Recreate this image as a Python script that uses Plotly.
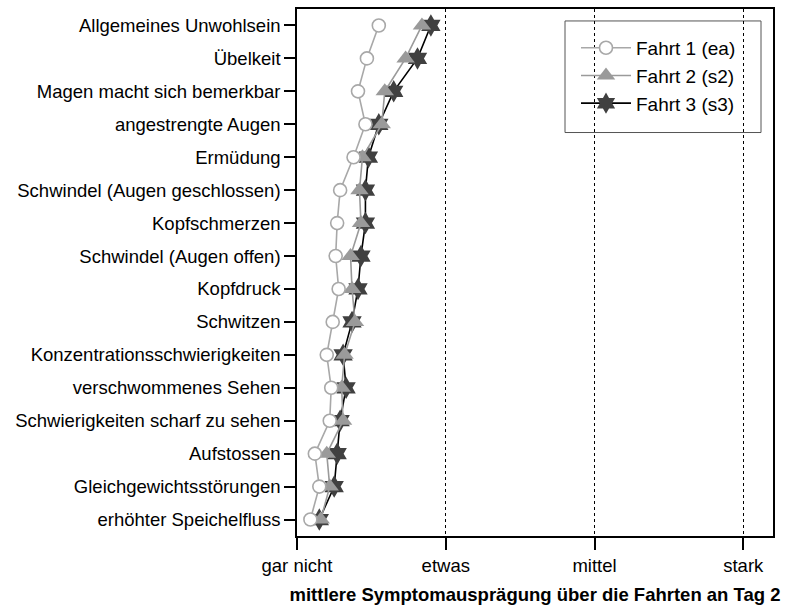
import plotly.graph_objects as go

# Symptom items (top to bottom)
symptoms = [
    "Allgemeines Unwohlsein",
    "Übelkeit",
    "Magen macht sich bemerkbar",
    "angestrengte Augen",
    "Ermüdung",
    "Schwindel (Augen geschlossen)",
    "Kopfschmerzen",
    "Schwindel (Augen offen)",
    "Kopfdruck",
    "Schwitzen",
    "Konzentrationsschwierigkeiten",
    "verschwommenes Sehen",
    "Schwierigkeiten scharf zu sehen",
    "Aufstossen",
    "Gleichgewichtsstörungen",
    "erhöhter Speichelfluss",
]

# Mean symptom rating per ride (0 = gar nicht ... 3 = stark)
fahrt1_ea = [0.55, 0.47, 0.41, 0.46, 0.38, 0.29, 0.27, 0.26,
             0.28, 0.24, 0.20, 0.23, 0.22, 0.12, 0.15, 0.09]
fahrt2_s2 = [0.84, 0.73, 0.59, 0.57, 0.44, 0.42, 0.43, 0.36,
             0.37, 0.39, 0.32, 0.30, 0.31, 0.20, 0.22, 0.16]
fahrt3_s3 = [0.90, 0.81, 0.65, 0.55, 0.48, 0.46, 0.46, 0.43,
             0.41, 0.37, 0.31, 0.33, 0.29, 0.27, 0.25, 0.15]

scale_vals = [0, 1, 2, 3]
scale_labels = ["gar nicht", "etwas", "mittel", "stark"]

FONT = "Liberation Sans, Arial, Helvetica, sans-serif"

fig = go.Figure()

# drawn back to front: ride 3, ride 2, ride 1
fig.add_trace(go.Scatter(
    x=fahrt3_s3, y=symptoms, mode="lines+markers", name="Fahrt 3 (s3)",
    legendrank=3,
    line=dict(color="black", width=1.6),
    marker=dict(symbol="hexagram", size=17, color="#404040",
                line=dict(width=0)),
))
fig.add_trace(go.Scatter(
    x=fahrt2_s2, y=symptoms, mode="lines+markers", name="Fahrt 2 (s2)",
    legendrank=2,
    line=dict(color="#9a9a9a", width=1.6),
    marker=dict(symbol="triangle-up", size=16, color="#9a9a9a",
                line=dict(width=0)),
))
fig.add_trace(go.Scatter(
    x=fahrt1_ea, y=symptoms, mode="lines+markers", name="Fahrt 1 (ea)",
    legendrank=1,
    line=dict(color="#a8a8a8", width=1.6),
    marker=dict(symbol="circle", size=13, color="white",
                line=dict(color="#a8a8a8", width=1.6)),
))

# legend frame
fig.add_shape(type="rect", xref="paper", yref="paper",
              x0=(565 - 297) / 476, x1=(761 - 297) / 476,
              y0=(536 - 131) / 529, y1=(536 - 19) / 529,
              line=dict(color="#555555", width=1), fillcolor="white",
              layer="below")

fig.update_layout(
    width=788, height=614,
    margin=dict(l=297, r=15, t=7, b=78),
    paper_bgcolor="white", plot_bgcolor="white",
    font=dict(family=FONT, size=18, color="black"),
    showlegend=True,
    legend=dict(
        x=(576 - 297) / 476, y=(536 - 27) / 529,
        xanchor="left", yanchor="top",
        bgcolor="rgba(0,0,0,0)", borderwidth=0,
        font=dict(family=FONT, size=19, color="black"),
        itemwidth=50, traceorder="normal",
    ),
    xaxis=dict(
        range=[0, 3.2], tickvals=scale_vals, ticktext=scale_labels,
        showline=True, linecolor="black", linewidth=1.5, mirror=True,
        ticks="outside", ticklen=12, tickwidth=1.5, tickcolor="black",
        showgrid=True, gridcolor="black", gridwidth=1, griddash="3px,3px",
        zeroline=False,
        tickfont=dict(size=18.5),
        title=dict(text="<b>mittlere Symptomausprägung über die Fahrten an Tag 2</b>",
                   font=dict(size=18.5), standoff=13),
    ),
    yaxis=dict(
        type="category", categoryorder="array", categoryarray=symptoms,
        range=[15.5, -0.5],
        showline=True, linecolor="black", linewidth=1.5, mirror=True,
        ticks="outside", ticklen=11, tickwidth=1.5, tickcolor="black",
        showgrid=False, zeroline=False,
        tickfont=dict(size=18.5),
    ),
)

fig.write_html("out.html")
